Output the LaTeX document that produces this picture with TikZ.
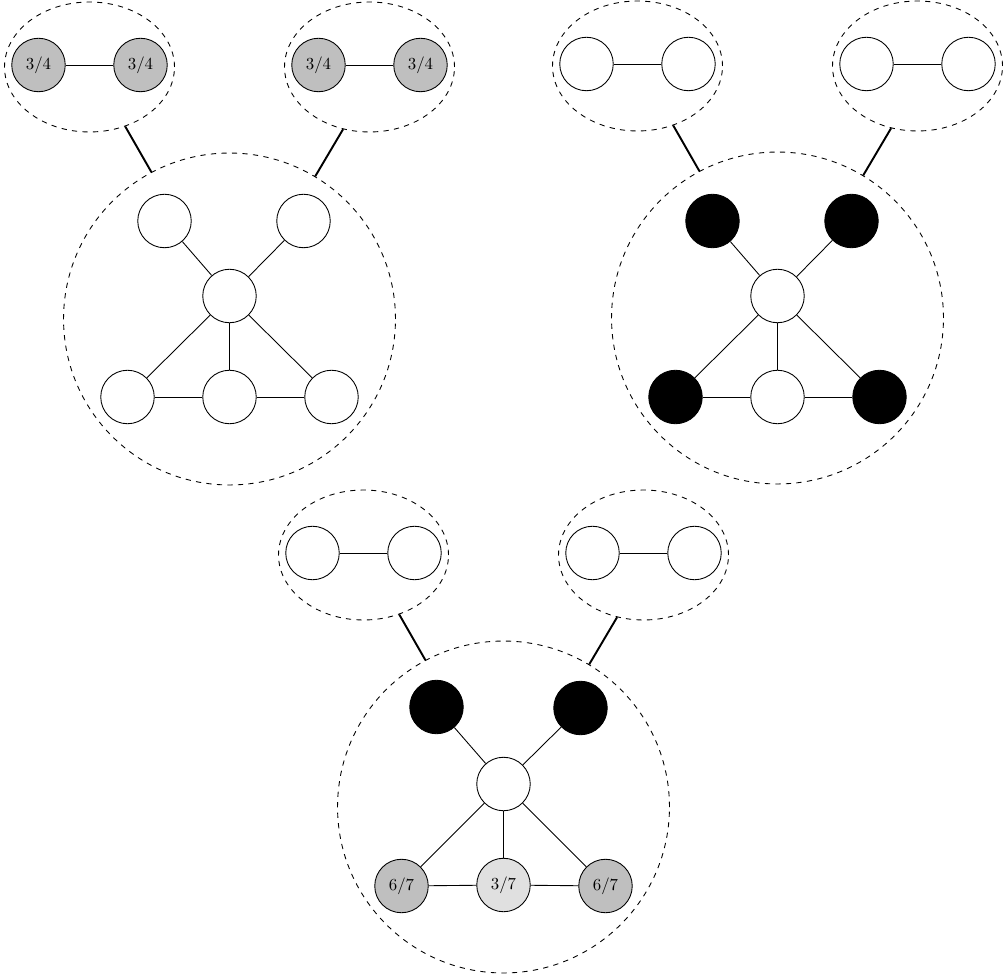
\documentclass[tikz,border=0pt]{standalone}
\usepackage{amsmath,amssymb}
\usepackage{tikz}
\usetikzlibrary{shapes.geometric}

\begin{document}
\begin{tikzpicture}[
    x=0.02cm, y=-0.02cm,
    vert/.style={circle, draw=black, line width=0.5pt, fill=white,
      minimum size=1.07cm, inner sep=0pt, font=\fontsize{9.6}{11}\selectfont},
    pair/.style={ellipse, draw=black, dashed, line width=0.5pt,
      minimum width=3.4cm, minimum height=2.6cm, inner sep=0pt},
    group/.style={circle, draw=black, dashed, line width=0.5pt,
      minimum size=6.64cm, inner sep=0pt},
    edge/.style={line width=0.5pt},
    link/.style={line width=1.1pt},
  ]
    \useasboundingbox (0,0) rectangle (1007,979);

    % left: gray pairs, empty graph
    \begin{scope}[shift={(229.5,319)}]
      \node[group] (lbig) at (0,0) {};
      \node[pair] (lpa) at (-140,-252) {};
      \node[pair] (lpb) at (140,-252) {};
      \node[vert, fill=black!25] (lpa1) at (-191,-254) {3/4};
      \node[vert, fill=black!25] (lpa2) at (-89,-254) {3/4};
      \node[vert, fill=black!25] (lpb1) at (89,-254) {3/4};
      \node[vert, fill=black!25] (lpb2) at (191,-254) {3/4};
      \node[vert] (ltl) at (-65,-98) {};
      \node[vert] (ltr) at (74,-98) {};
      \node[vert] (lc) at (0,-23) {};
      \node[vert] (lbl) at (-102,78) {};
      \node[vert] (lbm) at (0,78) {};
      \node[vert] (lbr) at (102,78) {};
    \end{scope}
    \draw[edge] (lpa1) -- (lpa2);
    \draw[edge] (lpb1) -- (lpb2);
    \draw[edge] (lc) -- (ltl);
    \draw[edge] (lc) -- (ltr);
    \draw[edge] (lc) -- (lbl);
    \draw[edge] (lc) -- (lbm);
    \draw[edge] (lc) -- (lbr);
    \draw[edge] (lbl) -- (lbm);
    \draw[edge] (lbm) -- (lbr);
    \draw[link] (lpa.301) -- (lbig.118);
    \draw[link] (lpb.247) -- (lbig.59);

    % right: empty pairs, black leaves
    \begin{scope}[shift={(777.5,318)}]
      \node[group] (rbig) at (0,0) {};
      \node[pair] (rpa) at (-140,-252) {};
      \node[pair] (rpb) at (140,-252) {};
      \node[vert] (rpa1) at (-191,-254) {};
      \node[vert] (rpa2) at (-89,-254) {};
      \node[vert] (rpb1) at (89,-254) {};
      \node[vert] (rpb2) at (191,-254) {};
      \node[vert, fill=black] (rtl) at (-65,-97) {};
      \node[vert, fill=black] (rtr) at (74,-97) {};
      \node[vert] (rc) at (0,-22) {};
      \node[vert, fill=black] (rbl) at (-102,79) {};
      \node[vert] (rbm) at (0,79) {};
      \node[vert, fill=black] (rbr) at (102,79) {};
    \end{scope}
    \draw[edge] (rpa1) -- (rpa2);
    \draw[edge] (rpb1) -- (rpb2);
    \draw[edge] (rc) -- (rtl);
    \draw[edge] (rc) -- (rtr);
    \draw[edge] (rc) -- (rbl);
    \draw[edge] (rc) -- (rbm);
    \draw[edge] (rc) -- (rbr);
    \draw[edge] (rbl) -- (rbm);
    \draw[edge] (rbm) -- (rbr);
    \draw[link] (rpa.301) -- (rbig.118);
    \draw[link] (rpb.247) -- (rbig.59);

    % bottom: empty pairs, weighted graph
    \begin{scope}[shift={(503.5,807)}]
      \node[group] (bbig) at (0,0) {};
      \node[pair] (bpa) at (-140,-252) {};
      \node[pair] (bpb) at (140,-252) {};
      \node[vert] (bpa1) at (-191,-254) {};
      \node[vert] (bpa2) at (-89,-254) {};
      \node[vert] (bpb1) at (89,-254) {};
      \node[vert] (bpb2) at (191,-254) {};
      \node[vert, fill=black] (btl) at (-67,-100) {};
      \node[vert, fill=black] (btr) at (77,-99) {};
      \node[vert] (bc) at (0,-23) {};
      \node[vert, fill=black!25] (bbl) at (-102,79) {6/7};
      \node[vert, fill=black!12] (bbm) at (0,78) {3/7};
      \node[vert, fill=black!25] (bbr) at (102,79) {6/7};
    \end{scope}
    \draw[edge] (bpa1) -- (bpa2);
    \draw[edge] (bpb1) -- (bpb2);
    \draw[edge] (bc) -- (btl);
    \draw[edge] (bc) -- (btr);
    \draw[edge] (bc) -- (bbl);
    \draw[edge] (bc) -- (bbm);
    \draw[edge] (bc) -- (bbr);
    \draw[edge] (bbl) -- (bbm);
    \draw[edge] (bbm) -- (bbr);
    \draw[link] (bpa.301) -- (bbig.118);
    \draw[link] (bpb.247) -- (bbig.59);
  \end{tikzpicture}
\end{document}
